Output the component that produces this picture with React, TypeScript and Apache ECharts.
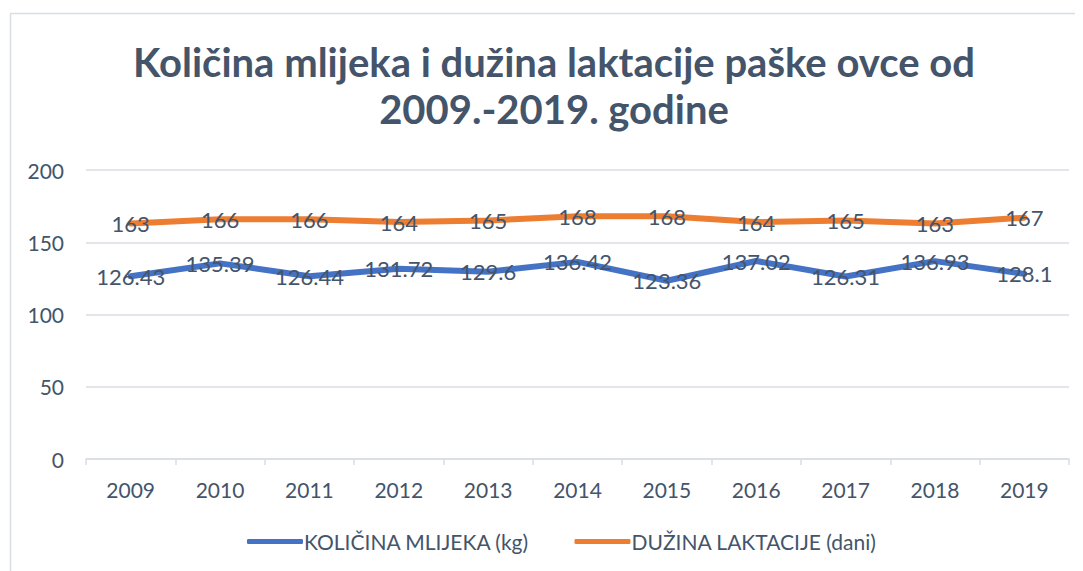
import React, { useEffect, useRef } from "react";
import * as echarts from "echarts";

const years = ["2009", "2010", "2011", "2012", "2013", "2014", "2015", "2016", "2017", "2018", "2019"];
const milk = [126.43, 135.39, 126.44, 131.72, 129.6, 136.42, 123.36, 137.02, 126.31, 136.93, 128.1];
const lactation = [163, 166, 166, 164, 165, 168, 168, 164, 165, 163, 167];
const yTicks = [0, 50, 100, 150, 200];
const titleLines = ["Količina mlijeka i dužina laktacije paške ovce od", "2009.-2019. godine"];

const FONT = "Lato, 'Open Sans', sans-serif";
const TEXT = "#44546A";
const FS = 21;

export default function App() {
  const ref = useRef<HTMLDivElement>(null);
  useEffect(() => {
    if (!ref.current) return;
    const chart = echarts.init(ref.current, null, { renderer: "svg" });
    const label = {
      show: true,
      position: "inside",
      fontFamily: FONT,
      fontSize: 22,
      color: TEXT,
    };
    chart.setOption({
      animation: false,
      backgroundColor: "#ffffff",
      textStyle: { fontFamily: FONT },
      graphic: [
        {
          type: "rect",
          shape: { x: 2.5, y: 5.5, width: 1200, height: 700 },
          style: { fill: "none", stroke: "#D9DEE5", lineWidth: 1.5 },
          silent: true,
        },
        {
          type: "text",
          x: 546,
          y: 30,
          style: {
            text: titleLines.join("\n"),
            align: "center",
            verticalAlign: "top",
            fontFamily: FONT,
            fontSize: 40,
            fontWeight: "bold",
            fill: TEXT,
            lineHeight: 47,
          },
          silent: true,
        },
      ],
      legend: {
        bottom: 14,
        left: 234,
        icon: "roundRect",
        itemWidth: 56,
        itemHeight: 5,
        itemGap: 45,
        textStyle: { fontFamily: FONT, fontSize: FS, color: TEXT, padding: [0, 0, 0, -4] },
        data: ["KOLIČINA MLIJEKA (kg)", "DUŽINA LAKTACIJE (dani)"],
      },
      grid: { left: 78, right: 14, top: 162, bottom: 112, containLabel: false },
      xAxis: {
        type: "category",
        data: years,
        boundaryGap: true,
        axisLine: { lineStyle: { color: "#D9DEE5", width: 1.5 } },
        axisTick: { show: true, length: 6, lineStyle: { color: "#D9DEE5", width: 1.5 } },
        axisLabel: { fontFamily: FONT, fontSize: FS, color: TEXT, margin: 20 },
      },
      yAxis: {
        type: "value",
        min: yTicks[0],
        max: yTicks[yTicks.length - 1],
        interval: 50,
        axisLine: { show: false },
        axisTick: { show: false },
        splitLine: { lineStyle: { color: "#D9DEE5", width: 1.5 } },
        axisLabel: { fontFamily: FONT, fontSize: FS, color: TEXT, margin: 22 },
      },
      series: [
        {
          name: "KOLIČINA MLIJEKA (kg)",
          type: "line",
          data: milk,
          symbol: "circle",
          symbolSize: 1,
          showSymbol: true,
          lineStyle: { color: "#4472C4", width: 6, cap: "round", join: "round" },
          itemStyle: { color: "#4472C4" },
          label,
        },
        {
          name: "DUŽINA LAKTACIJE (dani)",
          type: "line",
          data: lactation,
          symbol: "circle",
          symbolSize: 1,
          showSymbol: true,
          lineStyle: { color: "#ED7D31", width: 6, cap: "round", join: "round" },
          itemStyle: { color: "#ED7D31" },
          label,
        },
      ],
    });
    return () => chart.dispose();
  }, []);
  return <div ref={ref} style={{ width: 1075, height: 563 }} />;
}
